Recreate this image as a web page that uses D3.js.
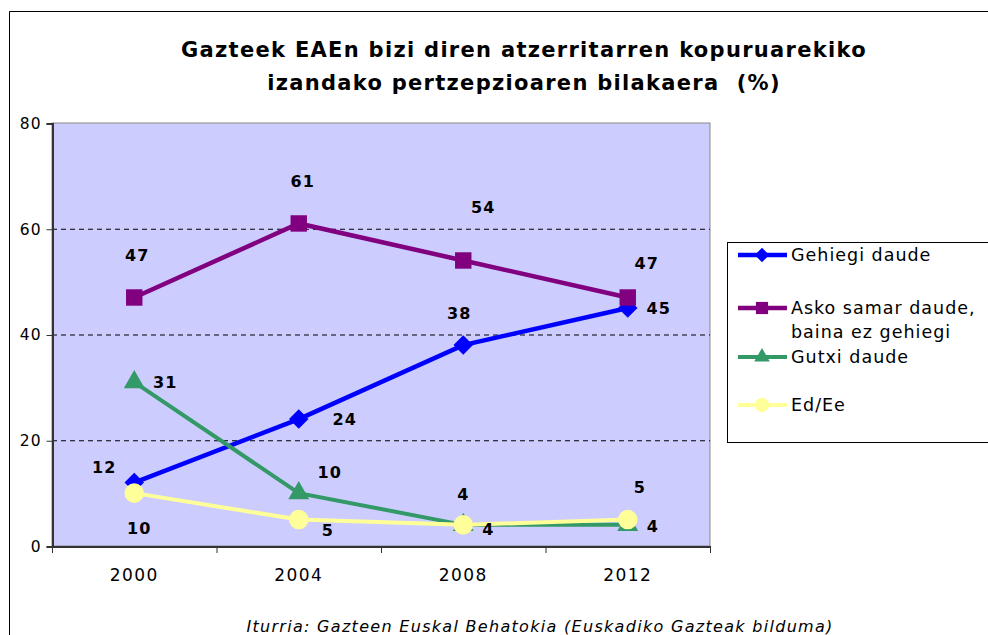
<!DOCTYPE html>
<html>
<head>
<meta charset="utf-8">
<script src="https://cdn.jsdelivr.net/npm/d3@7"></script>
<style>
  body { margin: 0; background: #fff; }
  svg { display: block; font-family: "DejaVu Sans", Verdana, sans-serif; }
</style>
</head>
<body>
<div id="chart"></div>
<script>
const years = ['2000', '2004', '2008', '2012'];
const gehiegi = [12, 24, 38, 45];
const askoSamar = [47, 61, 54, 47];
const gutxi = [31, 10, 4, 4];
const edEe = [10, 5, 4, 5];
const yTicks = [0, 20, 40, 60, 80];
const seriesNames = ['Gehiegi daude', 'Asko samar daude,\nbaina ez gehiegi', 'Gutxi daude', 'Ed/Ee'];

// label offsets (px) relative to the point, per series
const labelOffsets = [
    [[-30, -15], [46, 0], [-4, -32], [31, 0]],
    [[3, -42], [4, -42], [20, -53], [19, -34]],
    [[31, 0], [31, -21], [0, -30], [25, 2]],
    [[5, 35], [29, 11], [25, 5], [12, -32]]
];

const width = 988, height = 635;
const margin = {left: 52, top: 123, right: 278, bottom: 89};

let svg = d3.select('#chart').append('svg')
    .attr('width', width)
    .attr('height', height);

// outer frame
svg.append('path')
    .attr('d', 'M9.5,' + height + ' V11.5 H' + width)
    .attr('fill', 'none')
    .attr('stroke', '#000')
    .attr('stroke-width', 1);

svg.append('text')
    .attr('x', 524).attr('y', 57)
    .attr('text-anchor', 'middle')
    .style('font-size', '21px').style('font-weight', 'bold')
    .style('letter-spacing', '1.3px')
    .text('Gazteek EAEn bizi diren atzerritarren kopuruarekiko');
svg.append('text')
    .attr('x', 524).attr('y', 90)
    .attr('text-anchor', 'middle')
    .style('font-size', '21px').style('font-weight', 'bold')
    .style('letter-spacing', '1.3px')
    .style('white-space', 'pre')
    .text('izandako pertzepzioaren bilakaera  (%)');

let x = d3.scaleBand()
    .domain(years)
    .range([margin.left, width - margin.right]);
let y = d3.scaleLinear()
    .domain([0, 80])
    .range([height - margin.bottom, margin.top]);

let plot = svg.append('g');
plot.append('rect')
    .attr('x', margin.left).attr('y', margin.top)
    .attr('width', width - margin.right - margin.left)
    .attr('height', height - margin.bottom - margin.top)
    .attr('fill', '#ccccff')
    .attr('stroke', '#888')
    .attr('stroke-width', 1);

plot.selectAll('.grid')
    .data(yTicks.filter(d => d > 0 && d < 80))
    .enter().append('line')
    .attr('class', 'grid')
    .attr('x1', margin.left).attr('x2', width - margin.right)
    .attr('y1', d => y(d) + 0.5).attr('y2', d => y(d) + 0.5)
    .attr('stroke', '#000')
    .attr('stroke-dasharray', '5,4')
    .attr('stroke-width', 1);

let yAxis = svg.append('g')
    .attr('transform', 'translate(' + (margin.left + 0.5) + ',0.5)')
    .call(d3.axisLeft(y).tickValues(yTicks).tickSize(6).tickPadding(5));
let xAxis = svg.append('g')
    .attr('transform', 'translate(0,' + (height - margin.bottom + 0.5) + ')')
    .call(d3.axisBottom(x).tickSize(0).tickPadding(22));
svg.selectAll('.domain').attr('stroke', '#333').attr('stroke-width', 2);
yAxis.selectAll('line').attr('stroke', '#333');
svg.selectAll('.tick text')
    .style('font-size', '15.5px')
    .style('letter-spacing', '1px')
    .style('font-family', '"DejaVu Sans", Verdana, sans-serif')
    .attr('fill', '#000');
xAxis.selectAll('.tick text').style('font-size', '17px').style('letter-spacing', '1.4px');

// x ticks between categories
let bounds = years.map(d => x(d)).concat([width - margin.right]);
svg.selectAll('.xtick')
    .data(bounds)
    .enter().append('line')
    .attr('x1', d => d + 0.5).attr('x2', d => d + 0.5)
    .attr('y1', height - margin.bottom).attr('y2', height - margin.bottom + 7)
    .attr('stroke', '#333');

// Excel-style square diamond
const diamond = {
    draw: function (ctx, size) {
        let r = Math.sqrt(size) / 2;
        ctx.moveTo(0, -r); ctx.lineTo(r, 0); ctx.lineTo(0, r); ctx.lineTo(-r, 0); ctx.closePath();
    }
};

let series = [
    {name: seriesNames[0], values: gehiegi, color: '#0000ff', marker: diamond, size: 380, lw: 4.5},
    {name: seriesNames[1], values: askoSamar, color: '#800080', marker: d3.symbolSquare, size: 270, lw: 4.5},
    {name: seriesNames[2], values: gutxi, color: '#339966', marker: d3.symbolTriangle, size: 190, lw: 4},
    {name: seriesNames[3], values: edEe, color: '#ffff99', marker: d3.symbolCircle, size: 300, lw: 4}
];

let cx = d => x(d) + x.bandwidth() / 2;
let line = d3.line()
    .x(d => cx(d[0]))
    .y(d => y(d[1]));

series.forEach(function (s, si) {
    let pts = years.map((yr, i) => [yr, s.values[i]]);
    let g = svg.append('g');
    g.append('path')
        .attr('d', line(pts))
        .attr('fill', 'none')
        .attr('stroke', s.color)
        .attr('stroke-width', s.lw);
    g.selectAll('.mark')
        .data(pts)
        .enter().append('path')
        .attr('d', d3.symbol().type(s.marker).size(s.size))
        .attr('transform', d => 'translate(' + cx(d[0]) + ',' + y(d[1]) + ')')
        .attr('fill', s.color);
    g.selectAll('.lbl')
        .data(pts)
        .enter().append('text')
        .attr('x', (d, i) => cx(d[0]) + labelOffsets[si][i][0])
        .attr('y', (d, i) => y(d[1]) + labelOffsets[si][i][1])
        .attr('dy', '0.35em')
        .attr('text-anchor', 'middle')
        .style('font-size', '16px').style('font-weight', 'bold')
        .style('letter-spacing', '1px')
        .text(d => d[1]);
});

// legend
let legend = svg.append('g');
legend.append('rect')
    .attr('x', 727.5).attr('y', 242.5)
    .attr('width', 280).attr('height', 200)
    .attr('fill', '#fff')
    .attr('stroke', '#000');
let legendY = [255, 308, 357, 405];
series.forEach(function (s, i) {
    let ly = legendY[i];
    legend.append('line')
        .attr('x1', 738).attr('x2', 787)
        .attr('y1', ly).attr('y2', ly)
        .attr('stroke', s.color).attr('stroke-width', s.lw);
    legend.append('path')
        .attr('d', d3.symbol().type(s.marker).size(s.size * 0.55))
        .attr('transform', 'translate(762,' + ly + ')')
        .attr('fill', s.color);
    let t = legend.append('text')
        .attr('x', 791).attr('y', ly)
        .style('font-size', '17.5px')
        .style('letter-spacing', '1px');
    s.name.split('\n').forEach(function (part, k) {
        t.append('tspan')
            .attr('x', 791)
            .attr('dy', k === 0 ? '0.35em' : '1.35em')
            .text(part);
    });
});

svg.append('text')
    .attr('x', 540).attr('y', 632)
    .attr('text-anchor', 'middle')
    .style('font-size', '16px').style('font-style', 'italic')
    .style('letter-spacing', '1.3px')
    .text('Iturria: Gazteen Euskal Behatokia (Euskadiko Gazteak bilduma)');
</script>
</body>
</html>
